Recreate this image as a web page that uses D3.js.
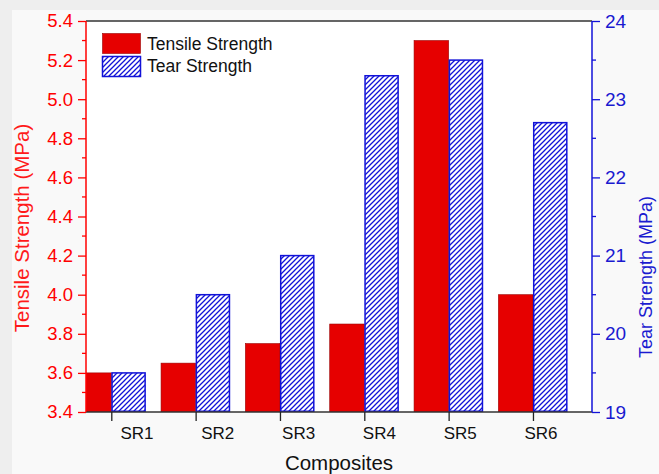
<!DOCTYPE html>
<html><head><meta charset="utf-8">
<script src="https://cdn.jsdelivr.net/npm/d3@7"></script>
<style>
html,body{margin:0;padding:0;background:#eeeeee;}
svg{display:block;font-family:"Liberation Sans",Arial,sans-serif;}
</style></head>
<body>
<script>
const categories = ["SR1","SR2","SR3","SR4","SR5","SR6"];
const tensile = [3.6, 3.65, 3.75, 3.85, 5.3, 4.0];
const tear = [19.5, 20.5, 21.0, 23.3, 23.5, 22.7];
const leftTicks = [3.4,3.6,3.8,4.0,4.2,4.4,4.6,4.8,5.0,5.2,5.4];
const rightTicks = [19,20,21,22,23,24];
const seriesNames = ["Tensile Strength","Tear Strength"];

const W = 659, H = 474;
const L = 86, R = 592, T = 21, B = 412;
const RED = "#e60000", BLUE = "#1212d8";
const FONT = "Liberation Sans, Arial, sans-serif";

const svg = d3.select("body").append("svg").attr("width", W).attr("height", H);
svg.append("rect").attr("x",12).attr("y",10).attr("width",W-12).attr("height",H-10).attr("fill","#f9f9f9");

const defs = svg.append("defs");
const pat = defs.append("pattern").attr("id","hatch").attr("patternUnits","userSpaceOnUse")
  .attr("width",5).attr("height",5);
pat.append("rect").attr("width",5).attr("height",5).attr("fill","#ffffff");
pat.append("path").attr("d","M-1,1 l2,-2 M0,5 l5,-5 M4,6 l2,-2").attr("stroke",BLUE).attr("stroke-width",1.3);
defs.append("clipPath").attr("id","clip").append("rect").attr("x",L).attr("y",T).attr("width",R-L).attr("height",B-T);

svg.append("rect").attr("x",L).attr("y",T).attr("width",R-L).attr("height",B-T).attr("fill","#ffffff");

const x = d3.scaleLinear().domain([0.7, 6.7]).range([L, R]);
const xLab = d3.scaleLinear().domain([1, 6]).range([137, 541]);
const yL = d3.scaleLinear().domain([3.4, 5.4]).range([B, T]);
const yR = d3.scaleLinear().domain([19, 24]).range([B, T]);
const bw = 0.41;

const g = svg.append("g").attr("clip-path","url(#clip)");
g.selectAll("rect.t").data(tensile).join("rect").attr("class","t")
  .attr("x",(d,i)=>x(i+1-bw)).attr("width",(d,i)=>x(i+1)-x(i+1-bw))
  .attr("y",d=>yL(d)).attr("height",d=>B-yL(d))
  .attr("fill",RED).attr("stroke","#9a0000").attr("stroke-width",0.6);
g.selectAll("rect.r").data(tear).join("rect").attr("class","r")
  .attr("x",(d,i)=>x(i+1)+0.75).attr("width",(d,i)=>x(i+1+bw)-x(i+1)-1.5)
  .attr("y",d=>yR(d)).attr("height",d=>B-yR(d)-0.75)
  .attr("fill","url(#hatch)").attr("stroke",BLUE).attr("stroke-width",1.5);

svg.append("line").attr("x1",L).attr("x2",R).attr("y1",T).attr("y2",T).attr("stroke","#333").attr("stroke-width",1.3);
svg.append("line").attr("x1",L).attr("x2",R).attr("y1",B).attr("y2",B).attr("stroke","#333").attr("stroke-width",1.3);

const xAx = svg.append("g").attr("transform",`translate(0,${B})`)
  .call(d3.axisBottom(x).tickValues(d3.range(1,7)).tickSize(9).tickFormat(""));
xAx.select(".domain").remove();
xAx.selectAll("line").attr("stroke","#222").attr("stroke-width",1.3);
svg.append("g").attr("font-size",17).attr("fill","#111").selectAll("text").data(categories).join("text")
  .attr("x",(d,i)=>xLab(i+1)).attr("y",439).attr("text-anchor","middle").text(d=>d);

const minorL = d3.range(3.5,5.4,0.2);
const la = svg.append("g").attr("transform",`translate(${L},0)`);
la.call(d3.axisLeft(yL).tickValues(leftTicks).tickSize(8).tickPadding(5).tickFormat(d3.format(".1f")));
la.select(".domain").attr("d",`M0,${B}V${T}`).attr("stroke","#ff0000").attr("stroke-width",1.5);
la.selectAll("line").attr("stroke","#ff0000").attr("stroke-width",1.3);
la.selectAll("text").attr("fill","#ff0000").attr("font-size",18.5).attr("font-family",FONT);
la.selectAll("line.minor").data(minorL).join("line").attr("class","minor")
  .attr("x1",-4).attr("x2",0).attr("y1",d=>yL(d)).attr("y2",d=>yL(d)).attr("stroke","#ff0000").attr("stroke-width",1.3);

const minorR = d3.range(19.5,24,1);
const ra = svg.append("g").attr("transform",`translate(${R},0)`);
ra.call(d3.axisRight(yR).tickValues(rightTicks).tickSize(8).tickPadding(5).tickFormat(d3.format("d")));
ra.select(".domain").attr("d",`M0,${B}V${T}`).attr("stroke",BLUE).attr("stroke-width",1.5);
ra.selectAll("line").attr("stroke",BLUE).attr("stroke-width",1.3);
ra.selectAll("text").attr("fill","#1a1ad0").attr("font-size",19).attr("font-family",FONT);
ra.selectAll("line.minor").data(minorR).join("line").attr("class","minor")
  .attr("x1",0).attr("x2",4).attr("y1",d=>yR(d)).attr("y2",d=>yR(d)).attr("stroke",BLUE).attr("stroke-width",1.3);

svg.append("text").attr("transform","translate(28.5,228) rotate(-90)").attr("text-anchor","middle")
  .attr("font-size",20.5).attr("fill","#ff1a1a").text("Tensile Strength (MPa)");
svg.append("text").attr("transform","translate(652,277) rotate(-90)").attr("text-anchor","middle")
  .attr("font-size",18).attr("fill","#1a1ad0").text("Tear Strength (MPa)");
svg.append("text").attr("x",339).attr("y",470).attr("text-anchor","middle")
  .attr("font-size",20.5).attr("fill","#111").text("Composites");

const leg = svg.append("g");
const legFills = [RED, "url(#hatch)"];
const legStroke = ["#9a0000", BLUE];
seriesNames.forEach((n,i)=>{
  leg.append("rect").attr("x",102.5).attr("y",33.5+i*23).attr("width",38).attr("height",20)
    .attr("fill",legFills[i]).attr("stroke",legStroke[i]).attr("stroke-width",i?1.5:0.6);
  leg.append("text").attr("x",147).attr("y",50+i*22).attr("font-size",17.5).attr("fill","#111").text(n);
});
</script>
</body></html>
